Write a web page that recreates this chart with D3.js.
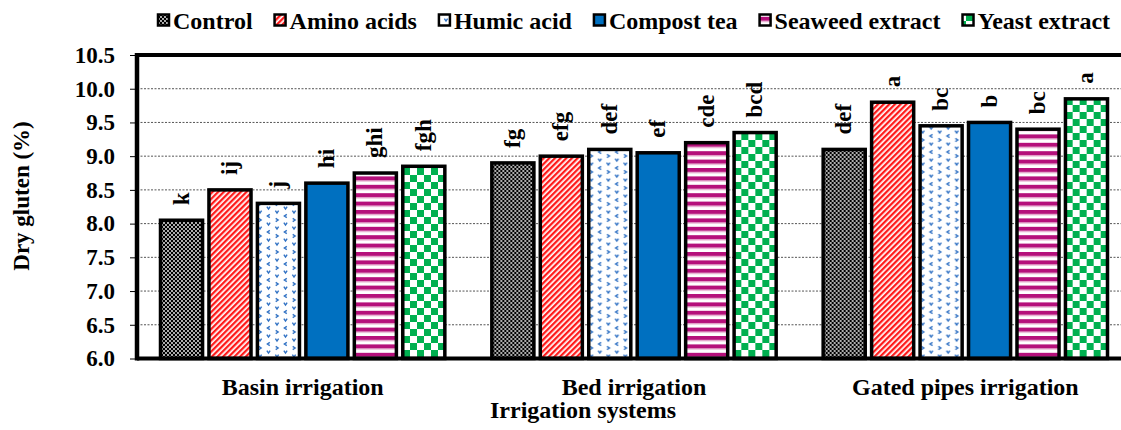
<!DOCTYPE html>
<html>
<head>
<meta charset="utf-8">
<script src="https://cdn.jsdelivr.net/npm/d3@7"></script>
<style>
  body { margin: 0; background: #fff; }
</style>
</head>
<body>
<svg id="chart" width="1121" height="430"></svg>
<script>
const groups = ["Basin irrigation", "Bed irrigation", "Gated pipes irrigation"];
const treatments = ["Control", "Amino acids", "Humic acid", "Compost tea", "Seaweed extract", "Yeast extract"];
// dry gluten (%) per group, in treatment order
const basin = [8.05, 8.5, 8.3, 8.6, 8.75, 8.85];
const bed = [8.9, 9.0, 9.1, 9.05, 9.2, 9.35];
const gated = [9.1, 9.8, 9.45, 9.5, 9.4, 9.85];
const basinLetters = ["k", "ij", "j", "hi", "ghi", "fgh"];
const bedLetters = ["fg", "efg", "def", "ef", "cde", "bcd"];
const gatedLetters = ["def", "a", "bc", "b", "bc", "a"];
const yTicks = [6.0, 6.5, 7.0, 7.5, 8.0, 8.5, 9.0, 9.5, 10.0, 10.5];

const values = [basin, bed, gated];
const letters = [basinLetters, bedLetters, gatedLetters];
const data = groups.map((g, i) => ({
  group: g,
  bars: treatments.map((t, j) => ({ t, j, v: values[i][j], l: letters[i][j] }))
}));

const FONT = "'Liberation Serif', 'Times New Roman', Tinos, 'DejaVu Serif', serif";
const svg = d3.select("#chart");
const plotL = 137, plotR = 1131, plotT = 55, plotB = 358.5;

const x0 = d3.scaleBand().domain(groups).range([plotL, plotR]);
const x1 = d3.scaleBand().domain(treatments).range([22, x0.bandwidth() - 22]).paddingInner(0.07);
const y = d3.scaleLinear().domain([6, 10.5]).range([plotB, plotT]);

const txt = (sel, size) => sel.style("font-family", FONT).style("font-weight", "bold")
  .style("font-size", size + "px").attr("fill", "#000");

// patterns
const defs = svg.append("defs");

let p = defs.append("pattern").attr("id", "p0").attr("patternUnits", "userSpaceOnUse").attr("width", 4).attr("height", 4);
p.append("rect").attr("width", 4).attr("height", 4).attr("fill", "#000");
p.append("circle").attr("cx", 1).attr("cy", 1).attr("r", 0.9).attr("fill", "#fff");
p.append("circle").attr("cx", 3).attr("cy", 3).attr("r", 0.9).attr("fill", "#fff");

p = defs.append("pattern").attr("id", "p1").attr("patternUnits", "userSpaceOnUse").attr("width", 4).attr("height", 4)
  .attr("patternTransform", "rotate(45)");
p.append("rect").attr("width", 4).attr("height", 4).attr("fill", "#fff");
p.append("rect").attr("width", 2.3).attr("height", 4).attr("fill", "#ff1a1a");

p = defs.append("pattern").attr("id", "p2").attr("patternUnits", "userSpaceOnUse").attr("width", 17).attr("height", 16);
p.append("rect").attr("width", 17).attr("height", 16).attr("fill", "#fff");
[[4, 4, "v"], [12.5, 8, "<"], [4, 12, ">"], [12.5, 0, "v"], [12.5, 16, "v"]].forEach(([cx, cy, k]) => {
  let d;
  if (k === "v") d = `M${cx - 1.6},${cy - 1.3} L${cx},${cy + 1.1} L${cx + 1.6},${cy - 1.3}`;
  else if (k === "<") d = `M${cx + 1.3},${cy - 1.6} L${cx - 1.1},${cy} L${cx + 1.3},${cy + 1.6}`;
  else d = `M${cx - 1.3},${cy - 1.6} L${cx + 1.1},${cy} L${cx - 1.3},${cy + 1.6}`;
  p.append("path").attr("d", d).attr("fill", "none").attr("stroke", "#3172c4").attr("stroke-width", 1.4);
});

p = defs.append("pattern").attr("id", "p4").attr("patternUnits", "userSpaceOnUse").attr("width", 8).attr("height", 8.4);
p.append("rect").attr("width", 8).attr("height", 8.4).attr("fill", "#fff");
p.append("rect").attr("y", 0).attr("width", 8).attr("height", 4.2).attr("fill", "#b5107b");
p.append("rect").attr("y", 4.2).attr("width", 8).attr("height", 1).attr("fill", "#e6a8cc");

p = defs.append("pattern").attr("id", "p5").attr("patternUnits", "userSpaceOnUse").attr("width", 14).attr("height", 14);
p.append("rect").attr("width", 14).attr("height", 14).attr("fill", "#fff");
p.append("rect").attr("width", 7).attr("height", 7).attr("fill", "#00b050");
p.append("rect").attr("x", 7).attr("y", 7).attr("width", 7).attr("height", 7).attr("fill", "#00b050");

const fills = ["url(#p0)", "url(#p1)", "url(#p2)", "#0070c0", "url(#p4)", "url(#p5)"];

// gridlines
svg.append("g").selectAll("line").data(yTicks.slice(1, -1)).join("line")
  .attr("x1", plotL).attr("x2", plotR)
  .attr("y1", d => y(d)).attr("y2", d => y(d))
  .attr("stroke", "#555").attr("stroke-width", 1).attr("stroke-dasharray", "2,1.5");

// y axis
const yAxis = svg.append("g").attr("transform", `translate(${plotL},0)`)
  .call(d3.axisLeft(y).tickValues(yTicks).tickFormat(d3.format(".1f")).tickSize(7).tickPadding(15));
yAxis.select(".domain").remove();
yAxis.attr("font-family", null);
txt(yAxis.selectAll("text"), 23);

// bars
const g = svg.append("g").selectAll("g").data(data).join("g")
  .attr("transform", d => `translate(${x0(d.group)},0)`);

g.selectAll("rect").data(d => d.bars).join("rect")
  .attr("x", d => x1(d.t) + 1.5)
  .attr("y", d => y(d.v))
  .attr("width", x1.bandwidth() - 3)
  .attr("height", d => y(6) - y(d.v))
  .attr("fill", d => fills[d.j])
  .attr("stroke", "#000").attr("stroke-width", 3.5);

txt(g.selectAll("text").data(d => d.bars).join("text")
  .attr("transform", d => `translate(${x1(d.t) + x1.bandwidth() / 2 + 7},${y(d.v) - 15}) rotate(-90)`)
  .text(d => d.l), 23);

// frame
svg.append("line").attr("x1", plotL).attr("x2", plotR).attr("y1", plotT).attr("y2", plotT)
  .attr("stroke", "#000").attr("stroke-width", 4);
svg.append("line").attr("x1", plotL).attr("x2", plotR).attr("y1", plotB).attr("y2", plotB)
  .attr("stroke", "#000").attr("stroke-width", 4);
svg.append("line").attr("x1", plotL).attr("x2", plotL).attr("y1", plotT - 2).attr("y2", plotB + 2)
  .attr("stroke", "#000").attr("stroke-width", 4.5);

// x labels
txt(svg.append("g").selectAll("text").data(groups).join("text")
  .attr("x", d => x0(d) + x0.bandwidth() / 2)
  .attr("y", 395)
  .attr("text-anchor", "middle")
  .text(d => d), 24);

txt(svg.append("text").attr("x", 583).attr("y", 418).attr("text-anchor", "middle")
  .text("Irrigation systems"), 24);

txt(svg.append("text").attr("transform", "translate(29,196) rotate(-90)").attr("text-anchor", "middle")
  .text("Dry gluten (%)"), 23);

// legend
const leg = svg.append("g");
let lx = 158;
treatments.forEach((t, j) => {
  leg.append("rect").attr("x", lx).attr("y", 14.5).attr("width", 11).attr("height", 11)
    .attr("fill", fills[j]).attr("stroke", "#000").attr("stroke-width", 2.5);
  const tx = txt(leg.append("text").attr("x", lx + 15).attr("y", 29).text(t), 24);
  lx += 15 + tx.node().getComputedTextLength() + 22;
});
</script>
</body>
</html>
